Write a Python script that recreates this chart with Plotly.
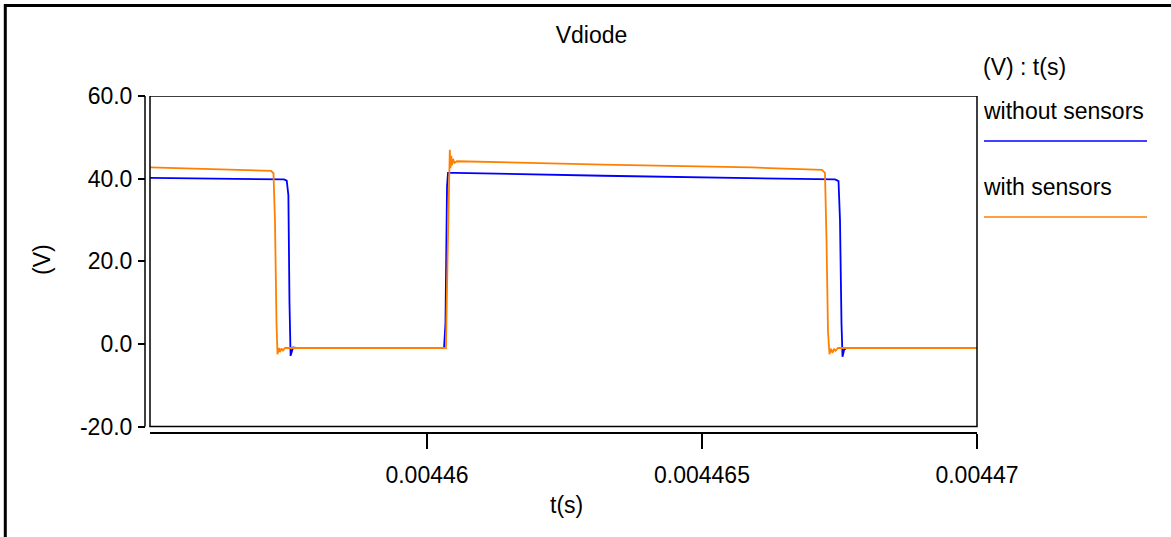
import plotly.graph_objects as go

# ---- data ----
t_without = [0.004454964, 0.0044559, 0.0044566, 0.0044574, 0.00445745, 0.00445748,
             0.0044575, 0.00445752, 0.004457545, 0.004457565, 0.00445762,
             0.00446031, 0.004460336, 0.004460364, 0.004460382, 0.00446051,
             0.0044632, 0.0044659, 0.00446742, 0.004467482, 0.004467509,
             0.004467536, 0.004467555, 0.004467582, 0.00446762, 0.00447]
v_without = [40.2, 40.0, 39.9, 39.8, 39.5, 36.0,
             10.0, -2.9, -1.8, -0.9, -1.0,
             -1.0, 5.0, 38.0, 41.4, 41.4,
             40.7, 40.1, 39.8, 39.4, 30.0,
             5.0, -3.1, -1.5, -1.0, -1.0]

t_with = [0.004454964, 0.0044566, 0.004457164, 0.004457209, 0.004457236, 0.004457264,
          0.004457282, 0.004457309, 0.004457327, 0.004457355, 0.004457382, 0.004457418,
          0.004460345, 0.004460373, 0.0044604, 0.004460415, 0.004460427, 0.004460442,
          0.004460455, 0.004460473, 0.0044605, 0.004460545, 0.0044632, 0.0044659,
          0.004467182, 0.004467236, 0.004467264, 0.004467291, 0.004467318, 0.004467345,
          0.004467373, 0.0044674, 0.004467427, 0.004467473, 0.00447]
v_with = [42.7, 42.1, 41.9, 41.3, 30.0, 5.0,
          -2.5, -1.0, -2.0, -1.1, -1.6, -1.0,
          -1.0, 20.0, 42.0, 47.0, 42.5, 45.5,
          43.2, 44.8, 43.8, 44.2, 43.4, 42.7,
          42.1, 41.4, 25.0, 3.0, -2.5, -1.2,
          -2.2, -1.2, -1.7, -1.0, -1.0]

series_names = ["without sensors", "with sensors"]
series_colors = ["#0000ff", "#ff8000"]

x_tickvals = [0.00446, 0.004465, 0.00447]
x_ticktext = ["0.00446", "0.004465", "0.00447"]
y_tickvals = [-20, 0, 20, 40, 60]
y_ticktext = ["-20.0", "0.0", "20.0", "40.0", "60.0"]

x_range = [0.004454964, 0.00447]
y_min, y_max = -20, 60

# ---- layout geometry (pixels) ----
W, H = 1171, 537
ML, MR, MT, MB = 145, 194, 96, 105
PW = W - ML - MR
PH = H - MT - MB
box_left = 150
px_per_v = (426.5 - 96) / (y_max - y_min)
y_bottom = y_min - (H - MB - 426.5) / px_per_v


def px(xp):
    return (xp - ML) / PW


def py(yp):
    return (H - MB - yp) / PH


FONT = "Liberation Sans, Arial, sans-serif"
FS = 23

fig = go.Figure()
fig.add_trace(go.Scatter(x=t_without, y=v_without, mode="lines", name=series_names[0],
                         line=dict(color=series_colors[0], width=1.8)))
fig.add_trace(go.Scatter(x=t_with, y=v_with, mode="lines", name=series_names[1],
                         line=dict(color=series_colors[1], width=1.8)))

shapes = [
    # plot box
    dict(type="rect", xref="x domain", yref="y", x0=0, x1=1, y0=y_min, y1=y_max,
         line=dict(color="black", width=1.5), layer="above"),
    # y axis line
    dict(type="line", xref="paper", yref="y", x0=0, x1=0, y0=y_min, y1=y_max,
         line=dict(color="black", width=1.5)),
    # outer frame
    dict(type="line", xref="paper", yref="paper", x0=px(4), x1=px(1171), y0=py(5.5), y1=py(5.5),
         line=dict(color="black", width=3)),
    dict(type="line", xref="paper", yref="paper", x0=px(5.3), x1=px(5.3), y0=py(4), y1=py(537),
         line=dict(color="black", width=3)),
    # legend samples
    dict(type="line", xref="paper", yref="paper", x0=px(984), x1=px(1147), y0=py(141), y1=py(141),
         line=dict(color=series_colors[0], width=1.5)),
    dict(type="line", xref="paper", yref="paper", x0=px(984), x1=px(1147), y0=py(217), y1=py(217),
         line=dict(color=series_colors[1], width=1.5)),
]

annotations = [
    dict(text="(V) : t(s)", xref="paper", yref="paper", x=px(981), y=py(67),
         xanchor="left", yanchor="middle", showarrow=False, font=dict(size=FS)),
    dict(text=series_names[0], xref="paper", yref="paper", x=px(981), y=py(111),
         xanchor="left", yanchor="middle", showarrow=False, font=dict(size=FS)),
    dict(text=series_names[1], xref="paper", yref="paper", x=px(981), y=py(187),
         xanchor="left", yanchor="middle", showarrow=False, font=dict(size=FS)),
    dict(text="t(s)", xref="paper", yref="paper", x=px(566), y=py(505),
         xanchor="center", yanchor="middle", showarrow=False, font=dict(size=FS)),
    dict(text="(V)", xref="paper", yref="paper", x=px(42), y=py(260), textangle=-90,
         xanchor="center", yanchor="middle", showarrow=False, font=dict(size=FS)),
]

fig.update_layout(
    width=W, height=H,
    margin=dict(l=ML, r=MR, t=MT, b=MB, pad=0),
    paper_bgcolor="white", plot_bgcolor="white",
    font=dict(family=FONT, size=FS, color="black"),
    showlegend=False,
    title=dict(text="Vdiode", x=591.5 / W, xref="container", xanchor="center",
               y=1 - 35 / H, yref="container", yanchor="middle",
               font=dict(size=FS, family=FONT, color="black")),
    shapes=shapes,
    annotations=annotations,
    xaxis=dict(domain=[(box_left - ML) / PW, 1], range=x_range,
               tickvals=x_tickvals, ticktext=x_ticktext,
               showline=True, linecolor="black", linewidth=1.5,
               ticks="outside", ticklen=15, tickwidth=1.5, tickcolor="black",
               ticklabelstandoff=7,
               showgrid=False, zeroline=False, fixedrange=True),
    yaxis=dict(anchor="free", position=0, range=[y_bottom, y_max],
               tickvals=y_tickvals, ticktext=y_ticktext,
               showline=False, ticks="outside", ticklen=7, tickwidth=1.5, tickcolor="black",
               ticklabelstandoff=1,
               showgrid=False, zeroline=False, fixedrange=True),
)

fig.write_html("out.html")
